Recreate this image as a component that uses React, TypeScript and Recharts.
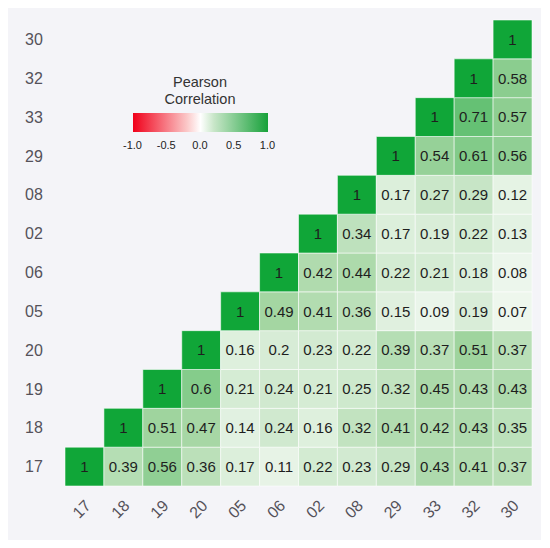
import React from 'react';
import { ScatterChart, Scatter, XAxis, YAxis, ReferenceArea } from 'recharts';

// variable order, same for both axes (x: left -> right, y: bottom -> top)
const labels = ['17', '18', '19', '20', '05', '06', '02', '08', '29', '33', '32', '30'];

// each row starts on the diagonal
const row17 = [1, 0.39, 0.56, 0.36, 0.17, 0.11, 0.22, 0.23, 0.29, 0.43, 0.41, 0.37];
const row18 = [1, 0.51, 0.47, 0.14, 0.24, 0.16, 0.32, 0.41, 0.42, 0.43, 0.35];
const row19 = [1, 0.6, 0.21, 0.24, 0.21, 0.25, 0.32, 0.45, 0.43, 0.43];
const row20 = [1, 0.16, 0.2, 0.23, 0.22, 0.39, 0.37, 0.51, 0.37];
const row05 = [1, 0.49, 0.41, 0.36, 0.15, 0.09, 0.19, 0.07];
const row06 = [1, 0.42, 0.44, 0.22, 0.21, 0.18, 0.08];
const row02 = [1, 0.34, 0.17, 0.19, 0.22, 0.13];
const row08 = [1, 0.17, 0.27, 0.29, 0.12];
const row29 = [1, 0.54, 0.61, 0.56];
const row33 = [1, 0.71, 0.57];
const row32 = [1, 0.58];
const row30 = [1];

const rows = [row17, row18, row19, row20, row05, row06, row02, row08, row29, row33, row32, row30];

const legendTicks = [-1.0, -0.5, 0.0, 0.5, 1.0];

const cells = rows.flatMap((vals, r) =>
  vals.map((v, k) => ({ x: r + k, y: r, value: v }))
);

const FONT = 'Arial, "Liberation Sans", sans-serif';

// white -> light green -> strong green
const stops: [number, number[]][] = [
  [0, [250, 252, 250]],
  [0.5, [162, 213, 160]],
  [1, [16, 166, 56]],
];
const cellColor = (v: number) => {
  for (let i = 1; i < stops.length; i++) {
    const [t1, c1] = stops[i];
    const [t0, c0] = stops[i - 1];
    if (v <= t1) {
      const f = (v - t0) / (t1 - t0);
      const c = c0.map((a, j) => Math.round(a + (c1[j] - a) * f));
      return `rgb(${c[0]},${c[1]},${c[2]})`;
    }
  }
  return 'rgb(16,166,56)';
};

const idx = labels.map((_, i) => i);

const YTick = (props: any) => {
  const { y, payload } = props;
  return (
    <text x={17} y={y} dy="0.35em" fontSize={16} fill="#55525a" fontFamily={FONT}>
      {labels[payload.value]}
    </text>
  );
};

const XTick = (props: any) => {
  const { x, y, payload } = props;
  return (
    <text
      transform={`translate(${x - 3},${y + 23}) rotate(-45)`}
      textAnchor="middle"
      dy="0.35em"
      fontSize={16}
      fill="#55525a"
      fontFamily={FONT}
    >
      {labels[payload.value]}
    </text>
  );
};

const ValueText = (props: any) => {
  const { cx, cy, payload } = props;
  return (
    <text x={cx} y={cy} dy="0.35em" textAnchor="middle" fontSize={15} fill="#1e1e1e" fontFamily={FONT}>
      {String(payload.value)}
    </text>
  );
};

const LegendBox = () => (
  <div
    style={{
      position: 'absolute',
      left: 117,
      top: 66,
      width: 150,
      fontFamily: FONT,
      color: '#333',
      textAlign: 'center',
    }}
  >
    <div style={{ fontSize: 14.5, lineHeight: '17px' }}>Pearson</div>
    <div style={{ fontSize: 14.5, lineHeight: '17px' }}>Correlation</div>
    <div
      style={{
        margin: '5px auto 0',
        width: 135,
        height: 19,
        background: 'linear-gradient(to right, #f0001a, #fbc8c8 40%, #ffffff 50%, #c8e6c8 60%, #17a13a)',
      }}
    />
    <div style={{ position: 'relative', height: 14, marginTop: 7, fontSize: 11, color: '#222' }}>
      {legendTicks.map((t, i) => (
        <span
          key={t}
          style={{
            position: 'absolute',
            left: 7.5 + (135 * i) / (legendTicks.length - 1),
            transform: 'translateX(-50%)',
            whiteSpace: 'nowrap',
          }}
        >
          {t.toFixed(1)}
        </span>
      ))}
    </div>
  </div>
);

export default function App() {
  return (
    <div style={{ position: 'relative', width: 533, height: 532, background: '#f4f4f8' }}>
      <ScatterChart width={533} height={532} margin={{ top: 12, right: 9, bottom: 0, left: 0 }}>
        <XAxis
          type="number"
          dataKey="x"
          domain={[-0.5, 11.5]}
          ticks={idx}
          interval={0}
          height={54}
          axisLine={false}
          tickLine={false}
          tickSize={0}
          tickMargin={0}
          tick={<XTick />}
        />
        <YAxis
          type="number"
          dataKey="y"
          domain={[-0.5, 11.5]}
          ticks={idx}
          interval={0}
          width={57}
          axisLine={false}
          tickLine={false}
          tick={<YTick />}
        />
        {cells.map((c) => (
          <ReferenceArea
            key={`${c.x}-${c.y}`}
            x1={c.x - 0.5}
            x2={c.x + 0.5}
            y1={c.y - 0.5}
            y2={c.y + 0.5}
            fill={cellColor(c.value)}
            fillOpacity={1}
            stroke="rgba(255,255,255,0.55)"
            strokeWidth={1}
            ifOverflow="visible"
          />
        ))}
        <Scatter data={cells} shape={<ValueText />} isAnimationActive={false} />
      </ScatterChart>
      <LegendBox />
    </div>
  );
}
